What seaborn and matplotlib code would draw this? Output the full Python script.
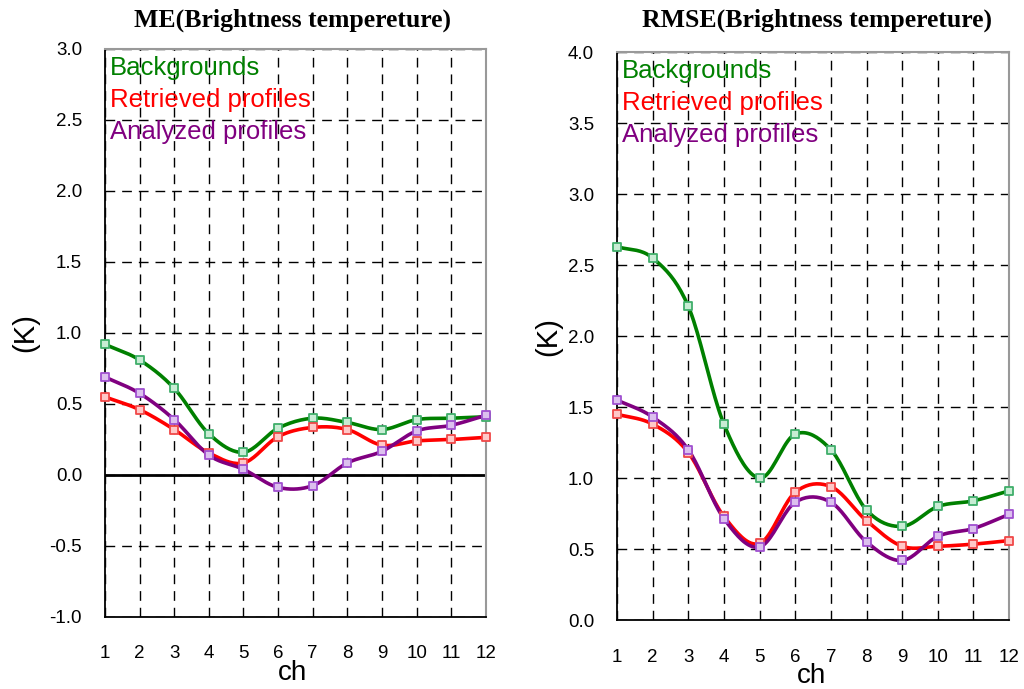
import numpy as np
import pandas as pd
import matplotlib
matplotlib.use("Agg")
import matplotlib.pyplot as plt
import seaborn as sns

# Channel numbers and error statistics (K)
channels = list(range(1, 13))

me_background = [0.92, 0.81, 0.61, 0.29, 0.16, 0.33, 0.40, 0.37, 0.32, 0.39, 0.40, 0.41]
me_retrieved = [0.55, 0.46, 0.32, 0.155, 0.085, 0.27, 0.335, 0.32, 0.21, 0.24, 0.25, 0.265]
me_analyzed = [0.69, 0.575, 0.39, 0.14, 0.04, -0.087, -0.075, 0.085, 0.167, 0.31, 0.35, 0.42]

rmse_background = [2.63, 2.55, 2.21, 1.38, 1.00, 1.31, 1.20, 0.775, 0.66, 0.80, 0.84, 0.91]
rmse_retrieved = [1.45, 1.38, 1.18, 0.73, 0.54, 0.90, 0.94, 0.70, 0.52, 0.52, 0.535, 0.56]
rmse_analyzed = [1.55, 1.43, 1.20, 0.715, 0.515, 0.83, 0.83, 0.55, 0.42, 0.59, 0.645, 0.745]

series_names = ["Backgrounds", "Retrieved profiles", "Analyzed profiles"]
line_colors = ["#008000", "#FF0000", "#800080"]
marker_faces = ["#c8ecd4", "#ffc8c8", "#dcc0ee"]
marker_edges = ["#3fae6a", "#f04848", "#a050d0"]

sns.set_style("white")
plt.rcParams["font.family"] = ["Liberation Sans", "DejaVu Sans"]
plt.rcParams["text.color"] = "black"
plt.rcParams["axes.labelcolor"] = "black"
plt.rcParams["xtick.color"] = "black"
plt.rcParams["ytick.color"] = "black"


def smooth_curve(x, y, n=20):
    """Catmull-Rom spline through the points, for a smoothed line."""
    x = np.asarray(x, float)
    y = np.asarray(y, float)
    px = np.concatenate([[2 * x[0] - x[1]], x, [2 * x[-1] - x[-2]]])
    py = np.concatenate([[2 * y[0] - y[1]], y, [2 * y[-1] - y[-2]]])
    xs, ys = [], []
    t = np.linspace(0, 1, n, endpoint=False)
    for i in range(1, len(px) - 2):
        for arr, out in ((px, xs), (py, ys)):
            p0, p1, p2, p3 = arr[i - 1], arr[i], arr[i + 1], arr[i + 2]
            out.extend(0.5 * ((2 * p1) + (-p0 + p2) * t
                              + (2 * p0 - 5 * p1 + 4 * p2 - p3) * t ** 2
                              + (-p0 + 3 * p1 - 3 * p2 + p3) * t ** 3))
    xs.append(x[-1])
    ys.append(y[-1])
    return np.array(xs), np.array(ys)


def draw_panel(ax, title, data, ylim, yticks, ylabel_x, xlabel_x, title_xy,
               ytick_pad, zero_line=False):
    for vals, name, lc, mf, me in zip(data, series_names, line_colors, marker_faces, marker_edges):
        sx, sy = smooth_curve(channels, vals)
        df_s = pd.DataFrame({"ch": sx, "v": sy})
        sns.lineplot(data=df_s, x="ch", y="v", ax=ax, color=lc, linewidth=2.6,
                     sort=False, estimator=None, zorder=3)
        df_p = pd.DataFrame({"ch": channels, "v": vals})
        sns.scatterplot(data=df_p, x="ch", y="v", ax=ax, marker="s", s=30,
                        color=mf, edgecolor=me, linewidth=1.3, zorder=4,
                        clip_on=False)
    if zero_line:
        ax.axhline(0, color="black", linewidth=2, zorder=2)
    ax.set_xlim(1, 12)
    ax.set_ylim(*ylim)
    ax.set_xticks(channels)
    ax.set_yticks(yticks)
    ax.set_yticklabels([f"{v:.1f}" for v in yticks])
    ax.grid(True, color="black", linestyle=(0, (7, 5)), linewidth=1.0)
    ax.tick_params(axis="y", length=0, pad=ytick_pad, labelsize=13.5)
    ax.tick_params(axis="x", length=0, pad=20.5, labelsize=13.5)
    for side in ("top", "right"):
        ax.spines[side].set_color("#999999")
        ax.spines[side].set_linewidth(1.5)
    for side in ("left", "bottom"):
        ax.spines[side].set_color("black")
        ax.spines[side].set_linewidth(1.3)
    ax.set_xlabel("ch", fontsize=20)
    ax.xaxis.label.set_va("center")
    ax.xaxis.set_label_coords(xlabel_x, -0.099)
    ax.set_ylabel("(K)", fontsize=21)
    ax.yaxis.label.set_va("center")
    ax.yaxis.set_label_coords(ylabel_x, 0.5)
    ax.text(title_xy[0], title_xy[1], title, transform=ax.transAxes,
            fontsize=18.5, fontweight="bold", ha="center", va="center",
            family=["Liberation Serif", "DejaVu Serif"])
    for i, (name, lc) in enumerate(zip(series_names, line_colors)):
        ax.text(0.012, 0.967 - i * 0.0563, name, transform=ax.transAxes, color=lc,
                fontsize=18.5, ha="left", va="center", zorder=5)


fig = plt.figure(figsize=(10.24, 6.89), dpi=100)
ax1 = fig.add_axes([0.1025, 0.1045, 0.372, 0.8244])
ax2 = fig.add_axes([0.6025, 0.100, 0.383, 0.8244])

draw_panel(ax1, "ME(Brightness tempereture)",
           [me_background, me_retrieved, me_analyzed],
           (-1.0, 3.0), np.arange(-1.0, 3.01, 0.5),
           ylabel_x=-0.21, xlabel_x=0.493, title_xy=(0.493, 1.051),
           ytick_pad=16.5, zero_line=True)
draw_panel(ax2, "RMSE(Brightness tempereture)",
           [rmse_background, rmse_retrieved, rmse_analyzed],
           (0.0, 4.0), np.arange(0.0, 4.01, 0.5),
           ylabel_x=-0.176, xlabel_x=0.497, title_xy=(0.51, 1.056),
           ytick_pad=16.5)

fig.savefig("out.png", dpi=100)
